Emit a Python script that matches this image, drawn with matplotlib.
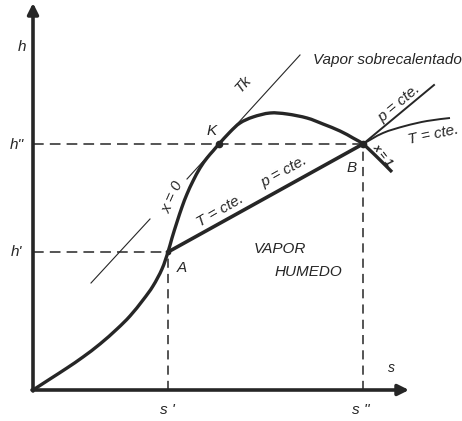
import matplotlib
matplotlib.use('Agg')
from matplotlib import pyplot as plt
from matplotlib.path import Path
from matplotlib.patches import PathPatch

# h-s diagram (Mollier), units are arbitrary
# saturation curve (x = 0 branch, critical point K, x = 1 branch)
sat_s = [0, 17, 34, 50, 67, 84, 97, 110, 120, 129, 135, 139, 144, 149, 154, 160, 167, 174, 180,
         186, 197, 207, 220, 237, 254, 274, 290, 307, 320, 330, 344, 359]
sat_h = [0, 11, 22, 33, 46, 61, 74, 90, 104, 121, 138, 152, 168, 183, 196, 209, 222, 232, 239,
         246, 258, 267, 273, 277, 276, 272, 266, 259, 252, 246, 233, 218]

# critical isotherm Tk (tangent at K), broken where the x = 0 label sits
tk_s = [[58, 117], [154, 267]]
tk_h = [[107, 171], [211, 335]]

# points A, K, B
s_A, h_A = 135, 138
s_K, h_K = 186, 246
s_B, h_B = 330, 246

# isobar and isotherm in the superheated region
p_s = [330, 401]
p_h = [246, 305]
t_s = [330, 350, 372, 394, 417]
t_h = [246, 257, 264, 269, 272]

ink = '#262626'
fs = 11
fam = ['Liberation Sans', 'DejaVu Sans']


def smooth(xs, ys):
    # catmull-rom through the points, as cubic bezier segments
    pts = list(zip(xs, ys))
    verts = [pts[0]]
    codes = [Path.MOVETO]
    for i in range(len(pts) - 1):
        p0 = pts[max(i - 1, 0)]
        p1, p2 = pts[i], pts[i + 1]
        p3 = pts[min(i + 2, len(pts) - 1)]
        c1 = (p1[0] + (p2[0] - p0[0]) / 6, p1[1] + (p2[1] - p0[1]) / 6)
        c2 = (p2[0] - (p3[0] - p1[0]) / 6, p2[1] - (p3[1] - p1[1]) / 6)
        verts += [c1, c2, p2]
        codes += [Path.CURVE4] * 3
    return Path(verts, codes)


fig = plt.figure(figsize=(4.62, 4.21), dpi=100)
ax = fig.add_axes([0, 0, 1, 1])
ax.set_xlim(-33, 429)
ax.set_ylim(-31, 390)
ax.axis('off')

# axes with arrows
ax.annotate('', xy=(0, 387), xytext=(0, -1),
            arrowprops=dict(arrowstyle='-|>', lw=2.6, color=ink, mutation_scale=16, shrinkA=0, shrinkB=0))
ax.annotate('', xy=(376, 0), xytext=(-1, 0),
            arrowprops=dict(arrowstyle='-|>', lw=2.6, color=ink, mutation_scale=16, shrinkA=0, shrinkB=0))

# dashed guide lines
dash = dict(color=ink, lw=1.1, dashes=(7, 4))
ax.plot([0, s_B], [h_B, h_B], **dash)
ax.plot([0, s_A], [h_A, h_A], **dash)
ax.plot([s_A, s_A], [0, h_A], color=ink, lw=1.1, dashes=(6, 4))
ax.plot([s_B, s_B], [0, h_B], color=ink, lw=1.1, dashes=(6, 4))

# curves
for xs, ys in zip(tk_s, tk_h):
    ax.plot(xs, ys, color=ink, lw=0.8)
ax.add_patch(PathPatch(smooth(sat_s, sat_h), fill=False, edgecolor=ink, lw=2.4))
ax.plot([s_A, s_B], [h_A, h_B], color=ink, lw=2.6)
ax.plot(p_s, p_h, color=ink, lw=1.4)
ax.add_patch(PathPatch(smooth(t_s, t_h), fill=False, edgecolor=ink, lw=1.4))
ax.plot([s_K, s_B], [h_K, h_B], 'o', color=ink, ms=4.5)
ax.plot([s_A], [h_A], 'o', color=ink, ms=3)

# labels
it = dict(style='italic', family=fam, color=ink, ha='center', va='center')
ax.text(-11, 343, 'h', fontsize=fs, **it)
ax.text(-16, 245, "h''", fontsize=fs, **it)
ax.text(-17, 138, "h'", fontsize=fs, **it)
ax.text(134, -20, "s '", fontsize=fs, **it)
ax.text(328, -20, "s ''", fontsize=fs, **it)
ax.text(358, 22, 's', fontsize=fs - 1, **it)
ax.text(179, 259, 'K', fontsize=fs, **it)
ax.text(149, 122, 'A', fontsize=fs, **it)
ax.text(319, 222, 'B', fontsize=fs, **it)
ax.text(210, 306, 'Tk', fontsize=fs, rotation=48, **it)
ax.text(280, 330, 'Vapor sobrecalentado', fontsize=fs, style='italic', family=fam,
        color=ink, ha='left', va='center')
ax.text(366, 287, 'p = cte.', fontsize=fs, rotation=40, **it)
ax.text(400, 255, 'T = cte.', fontsize=fs, rotation=12, **it)
ax.text(350, 235, 'x = 1', fontsize=8, weight='bold', rotation=-52, **it)
ax.text(140, 193, 'x = 0', fontsize=fs, rotation=66, **it)
ax.text(187, 179, 'T = cte.', fontsize=fs, rotation=30, **it)
ax.text(251, 218, 'p = cte.', fontsize=fs, rotation=29, **it)
ax.text(247, 141, 'VAPOR', fontsize=fs, **it)
ax.text(275, 118, 'HUMEDO', fontsize=fs, **it)

fig.savefig('out.png', dpi=100, facecolor='white')
